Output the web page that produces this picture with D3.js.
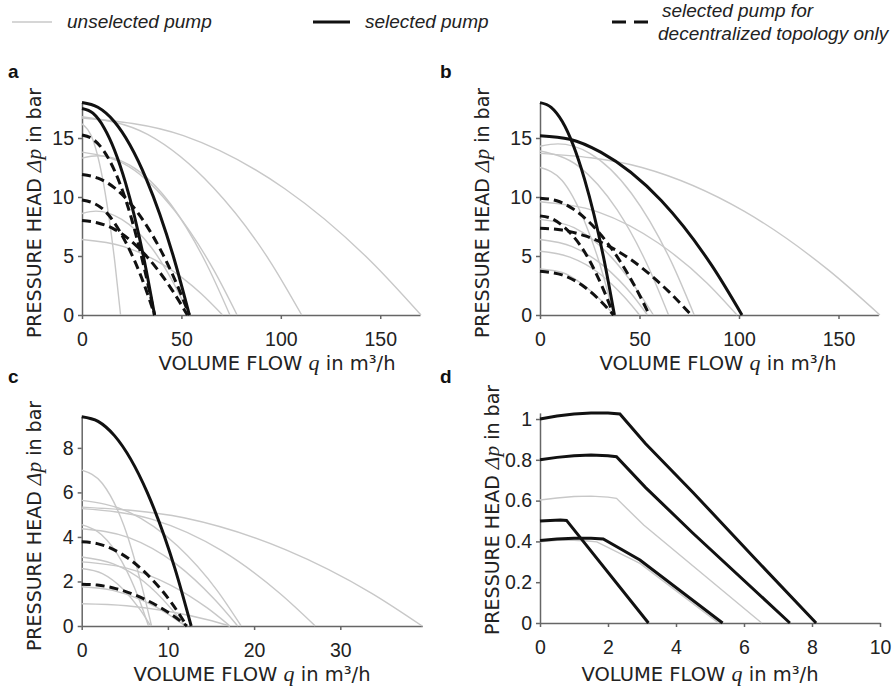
<!DOCTYPE html>
<html><head><meta charset="utf-8">
<script src="https://cdn.jsdelivr.net/npm/d3@7"></script>
<style>body{margin:0;background:#fff}</style>
</head><body>
<svg id="chart" width="895" height="690"></svg>
<script>
// ---------- DATA : [q in m3/h, dp in bar] ----------
const aGray = [
  [[0,16.7],[51,15.2],[102,10.7],[145,4.6],[170.5,0]],
  [[0,16.8],[33,15.3],[66,10.8],[94,4.7],[110.5,0]],
  [[0,16.2],[5.8,14.7],[11.6,10.4],[16.5,4.5],[19.4,0]],
  [[0,13.8],[23.4,12.6],[46.8,8.8],[66.3,3.8],[78,0]],
  [[0,13.3],[8,13.5],[24,12.7],[45,9.3],[63,4.2],[74.4,0]],
  [[0,6.4],[21,5.8],[42.4,4.1],[60,1.8],[70.7,0]],
  [[0,8.6],[7,8.8],[20,8.1],[35,5.7],[47,2.4],[54,0]]
];
const aSolid = [
  [[0,18],[8,17.6],[16.2,16.4],[32.4,11.5],[45.9,5.0],[54,0]],
  [[0,17.5],[5.5,17.1],[11,15.9],[21.9,11.2],[31,4.9],[36.5,0]]
];
const aDashed = [
  [[0,15.25],[5.5,14.9],[11,13.9],[21.9,9.8],[31,4.2],[36.5,0]],
  [[0,11.9],[8,11.6],[16.2,10.8],[32.4,7.6],[45.9,3.3],[54,0]],
  [[0,9.75],[5.5,9.5],[11,8.9],[21.9,6.2],[31,2.7],[36.5,0]],
  [[0,8.0],[8,7.8],[15.9,7.3],[31.8,5.1],[45,2.2],[53,0]]
];

const bGray = [
  [[0,13.7],[51.2,12.5],[102.5,8.8],[145,3.8],[170.8,0]],
  [[0,14.3],[9,14.5],[25,13.7],[46,10.3],[66,4.5],[77.5,0]],
  [[0,13.9],[19.4,12.6],[38.8,8.9],[54.9,3.9],[64.6,0]],
  [[0,12.5],[11.1,11.4],[22.2,8.0],[31.5,3.5],[37,0]],
  [[0,9.6],[29.7,8.7],[59.4,6.1],[84,2.7],[99,0]],
  [[0,8.1],[17.1,7.4],[34.2,5.2],[48.5,2.2],[57,0]],
  [[0,6.4],[16.2,5.8],[32.4,4.1],[45.9,1.8],[54,0]],
  [[0,5.4],[15,4.9],[30,3.5],[42.5,1.5],[50,0]],
  [[0,3.9],[11.1,3.6],[22.2,2.5],[31.5,1.1],[37,0]]
];
const bSolid = [
  [[0,18],[5.6,17.6],[11.2,16.4],[22.4,11.5],[31.8,5.0],[37.4,0]],
  [[0,15.2],[15,14.9],[30.5,13.8],[60.9,9.7],[86.3,4.2],[101.5,0]]
];
const bDashed = [
  [[0,9.9],[8,9.7],[16.5,9.0],[33,6.3],[46.8,2.7],[55,0]],
  [[0,8.4],[5.5,8.2],[11.1,7.6],[22.2,5.4],[31.5,2.3],[37,0]],
  [[0,7.35],[11,7.2],[22.8,6.7],[45.6,4.7],[64.6,2.0],[76,0]],
  [[0,3.7],[5.5,3.6],[11.1,3.4],[22.2,2.4],[31.5,1.0],[37,0]]
];

const cGray = [
  [[0,7.0],[2.4,6.4],[4.9,4.5],[6.9,1.9],[8.1,0]],
  [[0,5.64],[5.55,5.1],[11.1,3.6],[15.7,1.6],[18.5,0]],
  [[0,5.34],[11.85,4.86],[23.7,3.42],[33.6,1.48],[39.5,0]],
  [[0,5.27],[8.1,4.8],[16.3,3.37],[23,1.46],[27.1,0]],
  [[0,4.55],[2.3,4.1],[4.65,2.9],[6.6,1.26],[7.75,0]],
  [[0,4.37],[5.4,3.98],[10.9,2.8],[15.4,1.2],[18.1,0]],
  [[0,3.1],[3.6,2.8],[7.2,2.0],[10.2,0.86],[12,0]],
  [[0,2.88],[5.2,2.6],[10.3,1.84],[14.6,0.8],[17.2,0]],
  [[0,2.58],[2.4,2.35],[4.8,1.65],[6.8,0.72],[8,0]],
  [[0,1.76],[3.6,1.6],[7.2,1.13],[10.2,0.49],[12,0]],
  [[0,1.0],[5.2,0.91],[10.3,0.64],[14.6,0.28],[17.2,0]]
];
const cSolid = [
  [[0,9.4],[1.9,9.19],[3.8,8.55],[7.6,6.0],[10.8,2.6],[12.7,0]]
];
const cDashed = [
  [[0,3.78],[1.8,3.7],[3.66,3.44],[7.32,2.42],[10.4,1.05],[12.2,0]],
  [[0,1.88],[1.8,1.84],[3.66,1.71],[7.32,1.2],[10.4,0.52],[12.2,0]]
];

const dGray = [
  [[0,0.603],[0.5,0.613],[1,0.62],[1.5,0.622],[2,0.617],[2.25,0.611],[3.05,0.48],[6.52,0]],
  [[0,0.398],[0.5,0.405],[1,0.406],[1.4,0.402],[1.67,0.398],[2.94,0.292],[5.25,0]]
];
const dSolid = [
  [[0,1.0],[0.5,1.015],[1,1.025],[1.5,1.03],[2,1.03],[2.35,1.025],[3.1,0.88],[4.5,0.64],[6.3,0.32],[8.12,0]],
  [[0,0.80],[0.5,0.812],[1,0.82],[1.5,0.824],[2,0.82],[2.25,0.815],[3.1,0.665],[4.5,0.44],[7.35,0]],
  [[0,0.5],[0.3,0.503],[0.6,0.505],[0.78,0.503],[3.19,0]],
  [[0,0.405],[0.5,0.412],[1,0.415],[1.5,0.415],[1.86,0.412],[2.94,0.309],[5.37,0]]
];
const dDashed = [];

const xTicksAB = [0,50,100,150];
const yTicksAB = [0,5,10,15];
const xTicksC = [0,10,20,30];
const yTicksC = [0,2,4,6,8];
const xTicksD = [0,2,4,6,8,10];
const yTicksD = [0,0.2,0.4,0.6,0.8,1];

const panelLabels = ["a","b","c","d"];
const legendLabels = ["unselected pump","selected pump","selected pump for","decentralized topology only"];
const xTitleMain = "VOLUME FLOW ", xTitleVar = "q", xTitleRest = " in m³/h";
const yTitleMain = "PRESSURE HEAD ", yTitleVar = "Δp", yTitleRest = " in bar";

// ---------- LAYOUT ----------
const svg = d3.select("#chart");
const tickFont = "'Liberation Sans', Arial, sans-serif";
const titleFont = "'DejaVu Sans', Verdana, sans-serif";
const mathFont = "'Liberation Serif', 'Times New Roman', serif";
const GRAY = "#c8c8c8", BLACK = "#111";

const panels = [
  {gray:aGray, solid:aSolid, dashed:aDashed, xDom:[0,170], yDom:[0,18], xr:[82,420], yr:[315,102.6],
   xt:xTicksAB, yt:yTicksAB, curve:d3.curveMonotoneX, lab:[8,78], xT:[277,370], yT:[41,213]},
  {gray:bGray, solid:bSolid, dashed:bDashed, xDom:[0,170], yDom:[0,18], xr:[540,878.3], yr:[315,102.6],
   xt:xTicksAB, yt:yTicksAB, curve:d3.curveMonotoneX, lab:[440,78], xT:[718,370], yT:[489,213]},
  {gray:cGray, solid:cSolid, dashed:cDashed, xDom:[0,39.5], yDom:[0,9.4], xr:[81.7,422.2], yr:[626,416.7],
   xt:xTicksC, yt:yTicksC, curve:d3.curveMonotoneX, lab:[8,383], xT:[252,681], yT:[41,526]},
  {gray:dGray, solid:dSolid, dashed:dDashed, xDom:[0,10], yDom:[0,1.03], xr:[540,880], yr:[623,412.9],
   xt:xTicksD, yt:yTicksD, curve:d3.curveLinear, lab:[440,383], xT:[700,681], yT:[499,510]}
];

panels.forEach((p, i) => {
  const x = d3.scaleLinear().domain(p.xDom).range(p.xr);
  const y = d3.scaleLinear().domain(p.yDom).range(p.yr);
  const g = svg.append("g");
  const line = d3.line().x(d => x(d[0])).y(d => y(d[1])).curve(p.curve);

  // axes
  const xa = g.append("g").attr("transform", `translate(0,${p.yr[0]})`)
    .call(d3.axisBottom(x).tickValues(p.xt).tickSize(4).tickSizeOuter(0).tickPadding(13).tickFormat(d3.format("~g")));
  const ya = g.append("g").attr("transform", `translate(${p.xr[0]},0)`)
    .call(d3.axisLeft(y).tickValues(p.yt).tickSize(4).tickSizeOuter(0).tickPadding(4).tickFormat(d3.format("~g")));
  [xa, ya].forEach(a => {
    a.select(".domain").attr("stroke", "#666").attr("stroke-width", 1.5);
    a.selectAll(".tick line").attr("stroke", "#666").attr("stroke-width", 1.5);
    a.selectAll(".tick text").attr("fill", "#222").style("font-family", tickFont).style("font-size", "19.5px");
  });

  // curves
  g.append("g").selectAll("path").data(p.gray).join("path")
    .attr("d", line).attr("fill", "none").attr("stroke", GRAY).attr("stroke-width", 1.4);
  g.append("g").selectAll("path").data(p.solid).join("path")
    .attr("d", line).attr("fill", "none").attr("stroke", BLACK).attr("stroke-width", 3);
  g.append("g").selectAll("path").data(p.dashed).join("path")
    .attr("d", line).attr("fill", "none").attr("stroke", BLACK).attr("stroke-width", 3)
    .attr("stroke-dasharray", "9,5");

  // panel label
  g.append("text").attr("x", p.lab[0]).attr("y", p.lab[1]).text(panelLabels[i])
    .style("font-family", tickFont).style("font-weight", "bold").style("font-size", "19px").attr("fill", "#111");

  // x title
  const xt = g.append("text").attr("x", p.xT[0]).attr("y", p.xT[1]).attr("text-anchor", "middle")
    .style("font-family", titleFont).style("font-size", "19.5px").attr("fill", "#222");
  xt.append("tspan").text(xTitleMain);
  xt.append("tspan").text(xTitleVar).style("font-family", mathFont).style("font-style", "italic").style("font-size", "22px");
  xt.append("tspan").text(xTitleRest);

  // y title
  const yt = g.append("text").attr("transform", `translate(${p.yT[0]},${p.yT[1]}) rotate(-90)`)
    .attr("text-anchor", "middle").style("font-family", titleFont).style("font-size", "19px").attr("fill", "#222");
  yt.append("tspan").text(yTitleMain);
  yt.append("tspan").text(yTitleVar).style("font-family", mathFont).style("font-style", "italic").style("font-size", "21.5px");
  yt.append("tspan").text(yTitleRest);
});

// ---------- LEGEND ----------
const lg = svg.append("g");
const legFont = "'Liberation Sans', Arial, sans-serif";
lg.append("line").attr("x1", 12).attr("x2", 52).attr("y1", 22).attr("y2", 22).attr("stroke", GRAY).attr("stroke-width", 1.5);
lg.append("line").attr("x1", 313).attr("x2", 350).attr("y1", 22).attr("y2", 22).attr("stroke", BLACK).attr("stroke-width", 3);
lg.append("line").attr("x1", 612).attr("x2", 648).attr("y1", 22).attr("y2", 22).attr("stroke", BLACK).attr("stroke-width", 3)
  .attr("stroke-dasharray", "14,8");
const legText = [[67,28,0],[365,28,1],[662,17,2],[658,40,3]];
legText.forEach(t => {
  lg.append("text").attr("x", t[0]).attr("y", t[1]).text(legendLabels[t[2]])
    .style("font-family", legFont).style("font-style", "italic").style("font-size", "19px").attr("fill", "#222");
});
</script>
</body></html>
